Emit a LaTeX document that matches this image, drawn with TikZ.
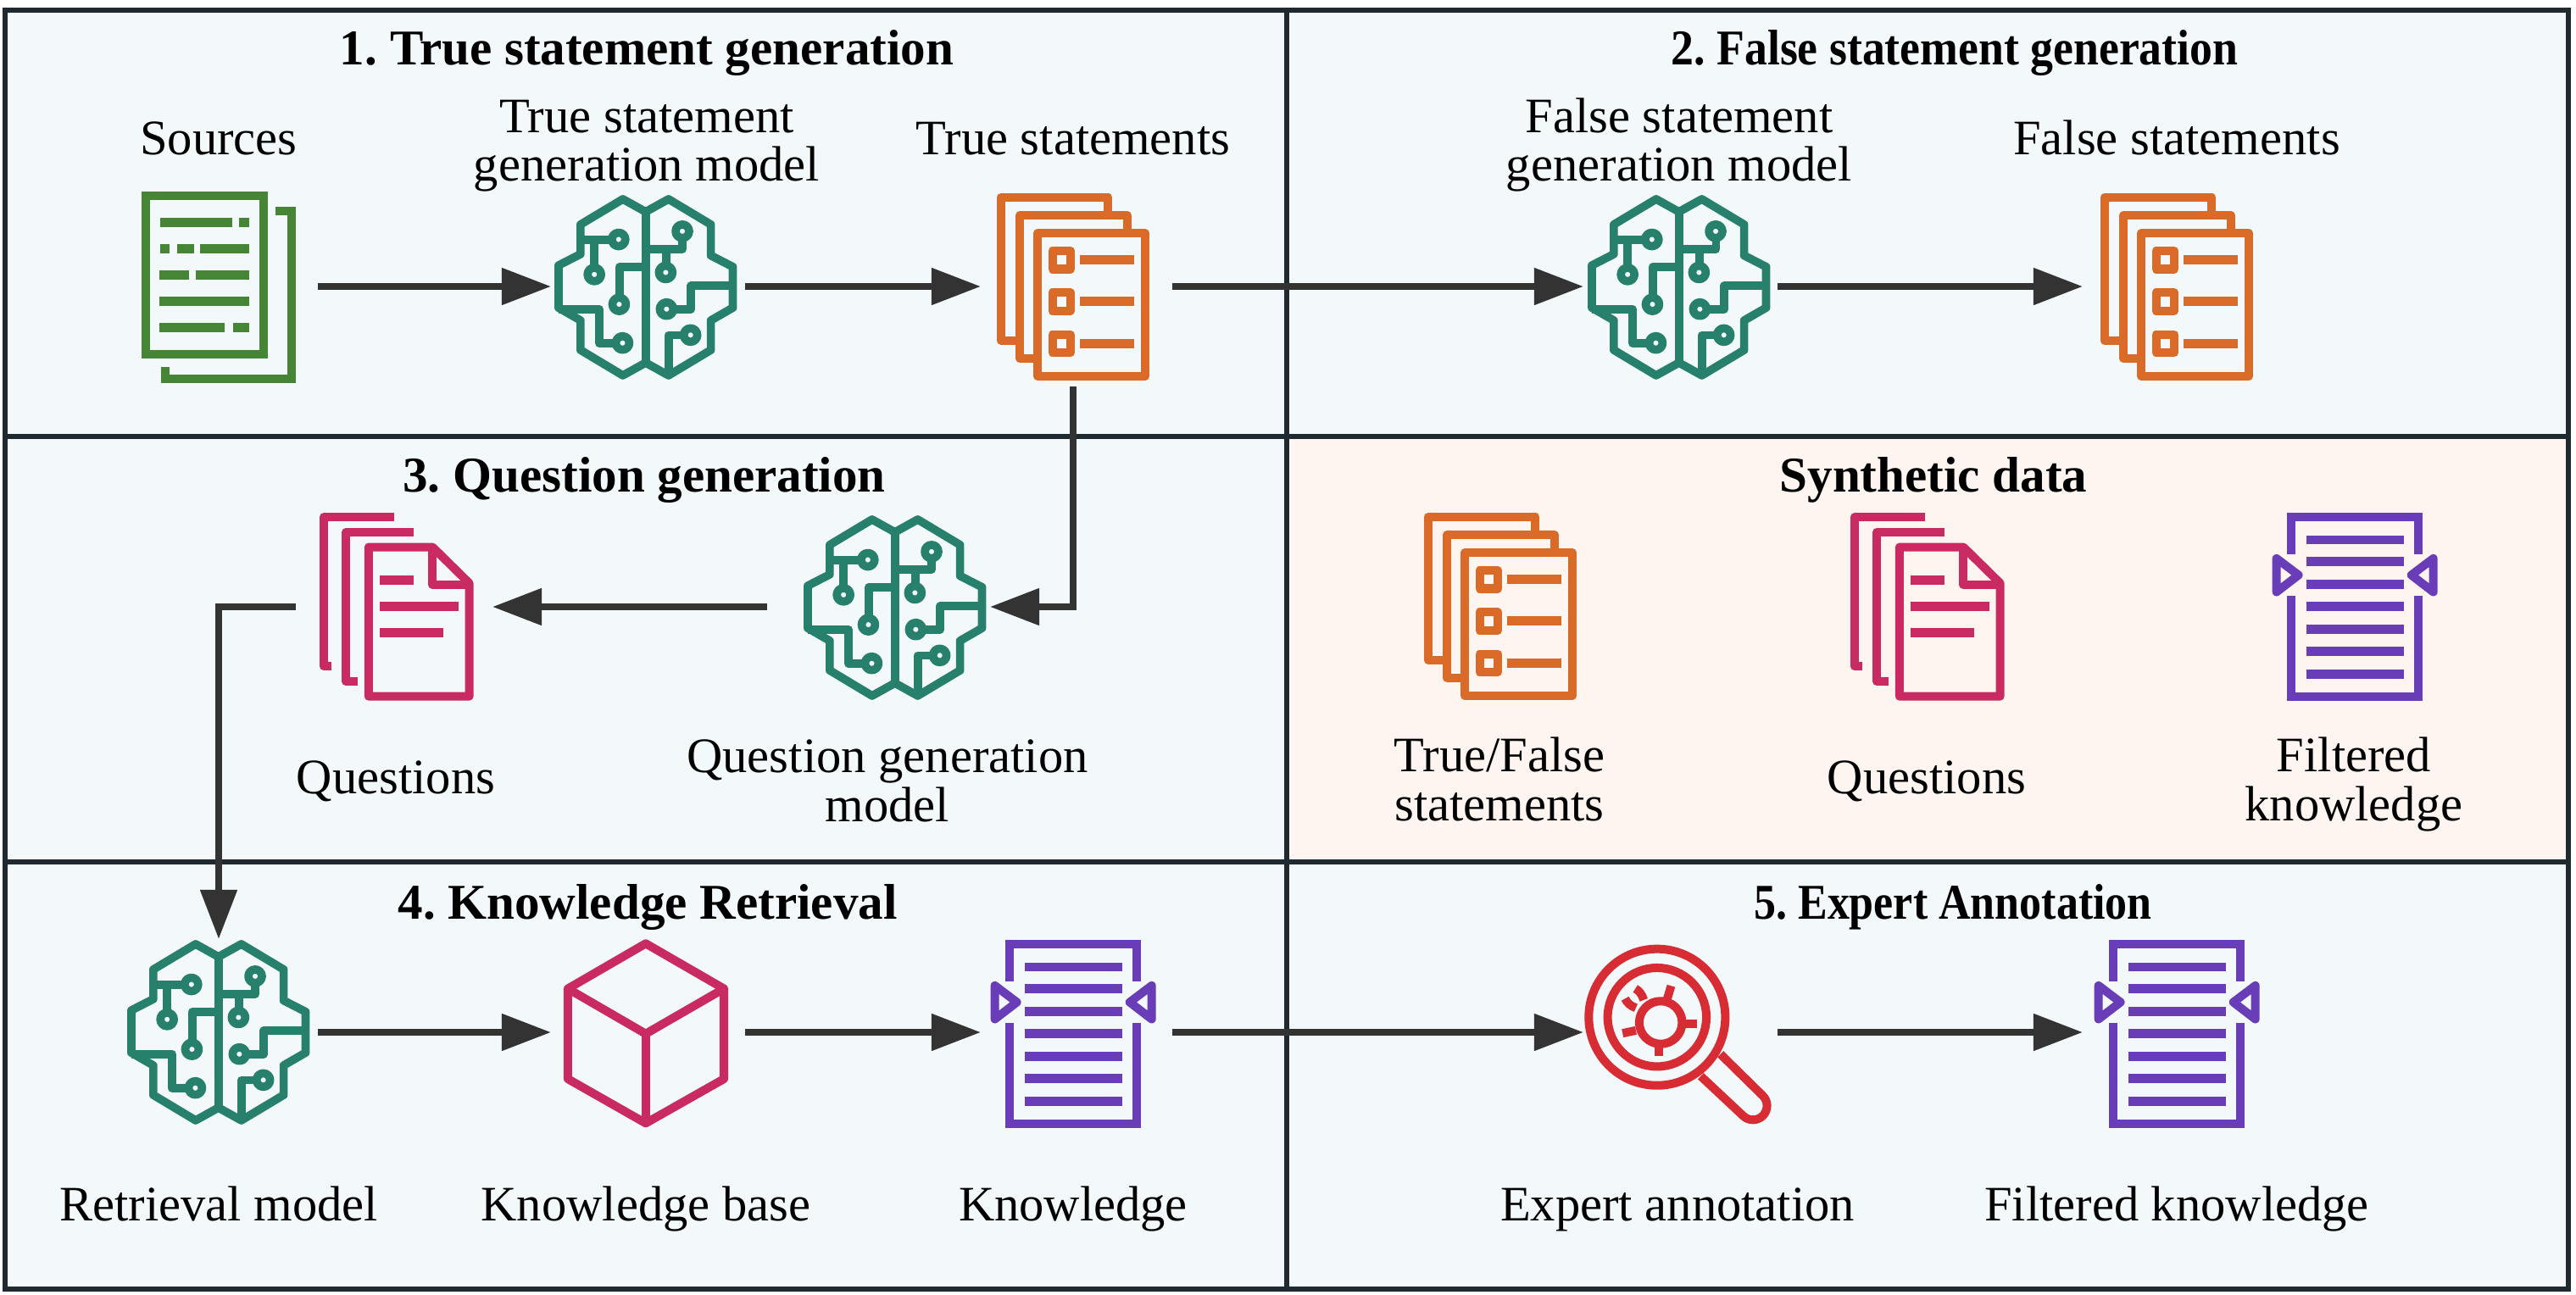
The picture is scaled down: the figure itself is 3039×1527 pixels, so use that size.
\documentclass[tikz,border=0pt]{standalone}
\usepackage{fontspec}
\usepackage{graphicx}
\setmainfont{Liberation Serif}
\usetikzlibrary{arrows.meta,fit}
\definecolor{bgpanel}{HTML}{F3F9FA}
\definecolor{bgsynth}{HTML}{FEF4F0}
\definecolor{rule}{HTML}{1F2A30}
\definecolor{arrowc}{HTML}{333333}
\definecolor{cteal}{HTML}{26806C}
\definecolor{cgreen}{HTML}{458535}
\definecolor{corange}{HTML}{D96A28}
\definecolor{cpink}{HTML}{C92A62}
\definecolor{cpurple}{HTML}{6A3DB8}
\definecolor{cred}{HTML}{D72C34}
\tikzset{
  panel/.style={draw=rule,line width=0.06cm,fill=bgpanel},
  flow/.style={draw=arrowc,line width=0.08cm,-{Triangle[length=0.58cm,width=0.42cm]}},
  slot/.style={inner sep=0pt,outer sep=0pt},
  lab/.style={anchor=base,align=center,font=\fontsize{16.65}{16}\selectfont\frenchspacing,text=black,inner sep=0pt},
  ttl/.style={anchor=base,align=center,font=\fontsize{16.8}{16}\selectfont\bfseries\frenchspacing,text=black,inner sep=0pt},
  zoomunits/.style={x=0.0033333cm,y=-0.0033333cm},
  tealpen/.style={draw=cteal,line width=0.097cm,line join=round},
  greenpen/.style={draw=cgreen,line width=0.1cm},
  greenbar/.style={draw=cgreen,line width=0.108cm},
  orangepen/.style={draw=corange,line width=0.1cm,line join=round},
  orangebar/.style={draw=corange,line width=0.108cm},
  pinkpen/.style={draw=cpink,line width=0.1cm,line join=round},
  pinkbar/.style={draw=cpink,line width=0.108cm},
  purplepen/.style={draw=cpurple,line width=0.1cm},
  purplebar/.style={draw=cpurple,line width=0.108cm},
  cubepen/.style={draw=cpink,line width=0.1cm,line join=round},
  redpen/.style={draw=cred,line width=0.1cm,line join=round},
  brainicon/.pic={\begin{scope}[zoomunits]
    \draw[tealpen] (405,105)--(486,150)--(567,105)--(717,195)--(717,305)--(795,345)--(795,490)--(717,535)--(717,640)--(567,730)--(486,685)--(405,730)--(255,640)--(255,535)--(177,490)--(177,340)--(255,300)--(255,195)--cycle;
    \draw[tealpen] (486,150)--(486,685);
    \draw[tealpen] (255,250)--(366,250); \draw[tealpen] (390,248) circle[radius=24];
    \draw[tealpen] (303,250)--(303,348); \draw[tealpen] (304,372) circle[radius=24];
    \draw[tealpen] (486,345)--(393,345)--(393,454); \draw[tealpen] (392,478) circle[radius=24];
    \draw[tealpen] (177,495)--(322,495)--(322,617)--(380,617); \draw[tealpen] (404,615) circle[radius=24];
    \draw[tealpen] (486,282)--(617,282)--(617,243); \draw[tealpen] (616,219) circle[radius=24];
    \draw[tealpen] (558,282)--(558,341); \draw[tealpen] (557,365) circle[radius=24];
    \draw[tealpen] (795,412)--(647,412)--(647,495)--(584,495); \draw[tealpen] (560,495) circle[radius=24];
    \draw[tealpen] (567,730)--(567,587)--(621,587); \draw[tealpen] (645,587) circle[radius=24];
  \end{scope}},
  sourceicon/.pic={\begin{scope}[zoomunits]
    \draw[greenpen] (125,92) rectangle (543,656);
    \draw[greenpen] (585,147)--(642,147)--(642,741)--(196,741)--(196,699);
    \draw[greenbar] (177,188)--(432,188) (456,188)--(492,188);
    \draw[greenbar] (177,282)--(210,282) (237,282)--(297,282) (318,282)--(492,282);
    \draw[greenbar] (174,375)--(279,375) (303,375)--(492,375);
    \draw[greenbar] (174,468)--(492,468);
    \draw[greenbar] (174,561)--(405,561) (435,561)--(492,561);
  \end{scope}},
  listicon/.pic={\begin{scope}[zoomunits]
    \draw[orangepen] (223,196) rectangle (604,703);
    \draw[orangepen] (223,640)--(160,640)--(160,132)--(540,132)--(540,196);
    \draw[orangepen] (160,576)--(92,576)--(92,69)--(473,69)--(473,132);
    \draw[orangepen] (275,259) rectangle (340,323);
    \draw[orangepen] (275,407) rectangle (340,471);
    \draw[orangepen] (275,555) rectangle (340,619);
    \draw[orangebar] (372,290)--(564,290) (372,438)--(564,438) (372,587)--(564,587);
  \end{scope}},
  qicon/.pic={\begin{scope}[zoomunits]
    \draw[pinkpen] (273,167)--(500,167)--(630,295)--(630,696)--(273,696)--cycle;
    \draw[pinkpen] (498,167)--(498,299)--(630,299);
    \draw[pinkpen] (365,61)--(114,61)--(114,590)--(140,590);
    \draw[pinkpen] (432,114)--(193,114)--(193,643)--(233,643);
    \draw[pinkbar] (312,284)--(432,284) (312,378)--(591,378) (312,470)--(537,470);
  \end{scope}},
  knowicon/.pic={\begin{scope}[zoomunits]
    \draw[purplepen] (68,193)--(68,61)--(519,61)--(519,193);
    \draw[purplepen] (68,339)--(68,696)--(519,696)--(519,339);
    \draw[purplepen,line join=round] (17,207)--(95,266)--(17,326)--cycle;
    \draw[purplepen,line join=round] (573,207)--(495,266)--(573,326)--cycle;
    \foreach \yy in {141,219,300,378,459,537,618} \draw[purplebar] (123,\yy)--(468,\yy);
  \end{scope}},
  cubeicon/.pic={\begin{scope}[zoomunits]
    \draw[cubepen] (366,70)--(643,230)--(643,550)--(366,707)--(90,550)--(90,230)--cycle;
    \draw[cubepen] (90,230)--(366,390)--(643,230);
    \draw[cubepen] (366,390)--(366,707);
  \end{scope}},
  magicon/.pic={\begin{scope}[zoomunits]
    \draw[redpen] (315,271) circle[radius=242];
    \draw[redpen] (315,271) circle[radius=175];
    \draw[redpen] (328,290) circle[radius=76];
    \draw[redpen] (415,293)--(456,293);
    \draw[redpen] (322,365)--(322,410);
    \draw[redpen] (240,318)--(193,328);
    \draw[redpen] (350,210)--(365,160);
    \draw[redpen] (268,210) .. controls (262,190) and (250,175) .. (238,170);
    \draw[redpen] (240,238) .. controls (222,232) and (208,220) .. (202,205);
    \draw[redpen] (540,402)--(689.5,549) .. controls (709.4,568) and (710,599.6) .. (691,619.5) .. controls (672,639.4) and (640.4,640) .. (620.5,621)--(470,480);
  \end{scope}},
}
\begin{document}
\begin{tikzpicture}[x=0.01cm,y=-0.01cm]
\useasboundingbox (0,0) rectangle (3039,1527);
\fill[white] (0,0) rectangle (3039,1527);
% panels
\draw[panel] (6,12) rectangle (1518,515);
\draw[panel] (1518,12) rectangle (3030,515);
\draw[panel] (6,515) rectangle (1518,1017);
\draw[panel,fill=bgsynth] (1518,515) rectangle (3030,1017);
\draw[panel] (6,1017) rectangle (1518,1521);
\draw[panel] (1518,1017) rectangle (3030,1521);
% icons
\pic at (130,200) {sourceicon};
\pic at (600,200) {brainicon};
\pic at (1150,210) {listicon};
\pic at (1819,200) {brainicon};
\pic at (2452,210) {listicon};
\pic at (894,578) {brainicon};
\pic at (344,590) {qicon};
\pic at (1654,587) {listicon};
\pic at (2150,590) {qicon};
\pic at (2680,590) {knowicon};
\pic at (96,1079) {brainicon};
\pic at (640,1090) {cubeicon};
\pic at (1168,1094) {knowicon};
\pic at (1850,1110) {magicon};
\pic at (2470,1094) {knowicon};
% anchor slots for the connectors
\node[slot,fit={(170,225)(375,451)}] (src) {};
\node[slot,fit={(650,225)(879,451)}] (tsm) {};
\node[slot,fit={(1157,225)(1383,451)}] (ts) {};
\coordinate (tsdown) at (1266,456);
\node[slot,fit={(1868,225)(2097,451)}] (fsm) {};
\node[slot,fit={(2457,225)(2700,451)}] (fs) {};
\node[slot,fit={(905,603)(1168,829)}] (qgm) {};
\node[slot,fit={(349,603)(581,829)}] (qs) {};
\node[slot,fit={(141,1108)(375,1328)}] (rm) {};
\node[slot,fit={(650,1108)(879,1328)}] (kb) {};
\node[slot,fit={(1157,1108)(1383,1328)}] (kn) {};
\node[slot,fit={(1868,1108)(2097,1328)}] (ea) {};
\node[slot,fit={(2457,1108)(2700,1328)}] (fk) {};
% connectors
\draw[flow] (src.east)--(tsm.west);
\draw[flow] (tsm.east)--(ts.west);
\draw[flow] (ts.east)--(fsm.west);
\draw[flow] (fsm.east)--(fs.west);
\draw[flow] (tsdown)|-(qgm.east);
\draw[flow] (qgm.west)--(qs.east);
\draw[flow] (qs.west)-|(rm.north);
\draw[flow] (rm.east)--(kb.west);
\draw[flow] (kb.east)--(kn.west);
\draw[flow] (kn.east)--(ea.west);
\draw[flow] (ea.east)--(fk.west);
% titles
\node[ttl] (t1) at (763,77) {1. True statement generation};
\node[ttl] (t2) at (2306,77) {\scalebox{0.91}[1]{2. False statement generation}};
\node[ttl] (t3) at (760,580) {3. Question generation};
\node[ttl] (t4) at (2281,580) {Synthetic data};
\node[ttl] (t5) at (764,1084) {4. Knowledge Retrieval};
\node[ttl] (t6) at (2304,1084) {\scalebox{0.88}[1]{5. Expert Annotation}};
% labels
\node[lab] (l1) at (258,182) {Sources};
\node[lab] (l2) at (763,213) {True statement\\generation model};
\node[lab] (l3) at (1266,182) {True statements};
\node[lab] (l4) at (1981,213) {False statement\\generation model};
\node[lab] (l5) at (2568,182) {False statements};
\node[lab] (l6) at (467,936) {Questions};
\node[lab] (l7) at (1047,969) {Question generation\\[0.4pt]model};
\node[lab] (l8) at (1769,968) {True/False\\[0.4pt]statements};
\node[lab] (l9) at (2273,936) {Questions};
\node[lab] (l10) at (2777,968) {Filtered\\[0.4pt]knowledge};
\node[lab] (l11) at (258,1440) {Retrieval model};
\node[lab] (l12) at (762,1440) {Knowledge base};
\node[lab] (l13) at (1266,1440) {Knowledge};
\node[lab] (l14) at (1979,1440) {Expert annotation};
\node[lab] (l15) at (2568,1440) {Filtered knowledge};
\end{tikzpicture}
\end{document}
